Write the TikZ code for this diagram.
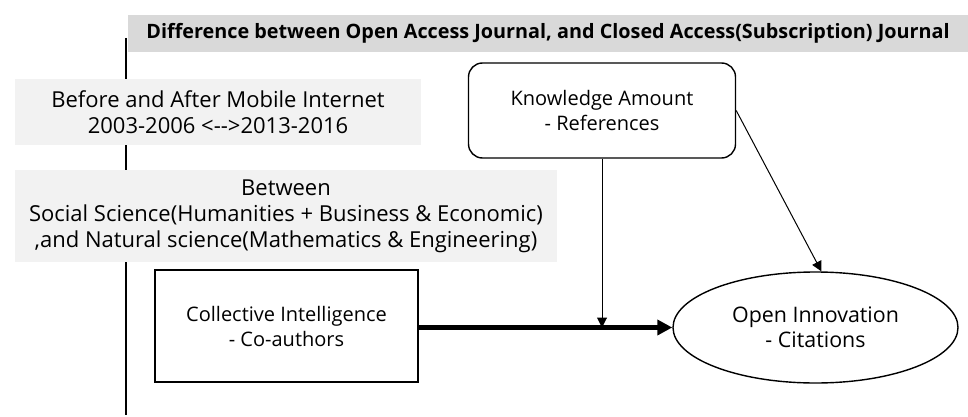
\documentclass[tikz,border=0pt]{standalone}
\usepackage{fontspec}
\setmainfont{Open Sans}
\usetikzlibrary{arrows.meta,shapes.geometric}
\definecolor{barGray}{HTML}{D9D9D9}
\definecolor{boxGray}{HTML}{F2F2F2}
\tikzset{
  band/.style={fill=boxGray,inner sep=0pt,align=center,font=\fontsize{11}{13}\selectfont},
  var/.style={draw,line width=0.7pt,align=center,inner sep=0pt,font=\fontsize{10}{12.5}\selectfont},
}
\begin{document}
\begin{tikzpicture}[x=0.5pt,y=-0.5pt]
\useasboundingbox (0,0) rectangle (968,417);

% outline
\coordinate (top) at (126,38);
\coordinate (bot) at (126,415);
\draw[line width=0.8pt] (top) -- (bot);
\node[fill=barGray,minimum width=420.5pt,minimum height=18.5pt,inner sep=0pt,
      font=\bfseries\fontsize{9.9}{12}\selectfont] (title) at (548,33.5)
      {Difference between Open Access Journal, and Closed Access(Subscription) Journal};
\node[band,minimum width=203pt,minimum height=33pt] (period) at (218,112)
      {Before and After Mobile Internet\\2003-2006 <-{}->2013-2016};
\node[band,minimum width=271pt,minimum height=46pt] (field) at (286,216)
      {Between\\Social Science(Humanities + Business \& Economic)\\,and Natural science(Mathematics \& Engineering)};

% variables
\node[var,rounded corners=7pt,minimum width=133.5pt,minimum height=47.5pt] (know) at (602,110.5)
      {Knowledge Amount\\- References};
\node[var,minimum width=131.5pt,minimum height=56pt] (coll) at (286.5,326)
      {Collective Intelligence\\- Co-authors};
\node[var,ellipse,minimum width=142.5pt,minimum height=55.5pt,font=\fontsize{10.7}{12.5}\selectfont] (inno) at (815.5,327.5)
      {Open Innovation\\- Citations};
\coordinate (meet) at (know.south |- inno.west);

% paths
\draw[line width=2.4pt,-{Triangle[length=7.5pt,width=7.5pt]}] (coll.east |- inno.west) -- (inno.west);
\draw[line width=0.5pt,-{Triangle[length=5pt,width=5pt]}] (know.south) -- (meet);
\draw[line width=0.5pt,-{Triangle[length=5pt,width=5pt]}] (know.east) -- (inno.84);
\end{tikzpicture}
\end{document}
